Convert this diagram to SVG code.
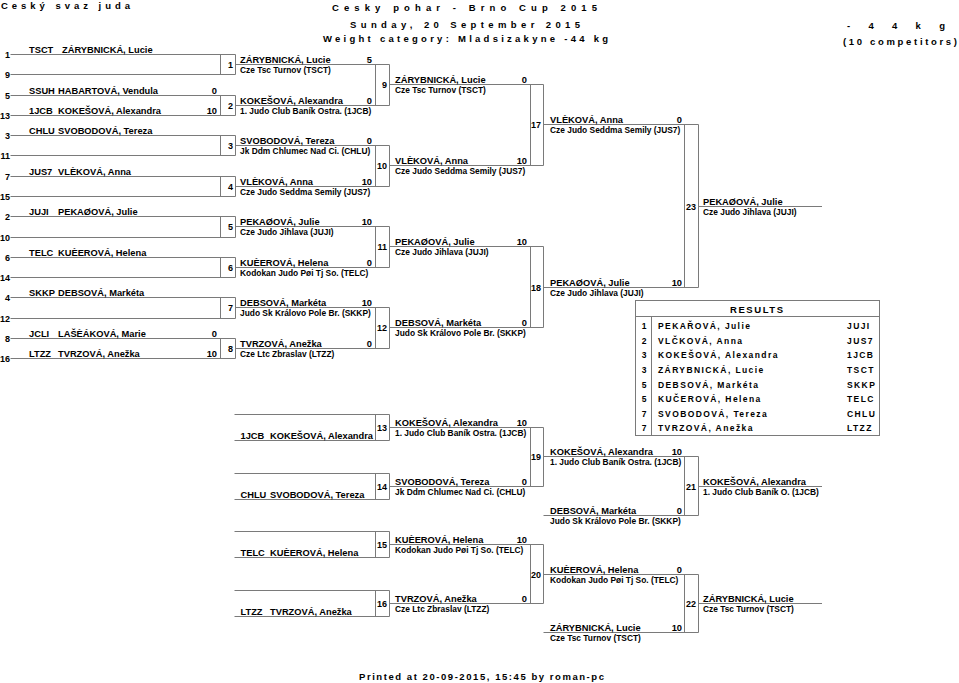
<svg xmlns="http://www.w3.org/2000/svg" width="959" height="683" viewBox="0 0 959 683">
<style>
text{font-family:"Liberation Sans",Arial,sans-serif;font-weight:bold;fill:#000}
.h{font-size:9.5px}
.n{font-size:9.3px}
.c{font-size:8.4px}
.s{font-size:9.3px;text-anchor:end}
.k{font-size:9px;text-anchor:end}
.r{font-size:8.5px;letter-spacing:1.4px}
.rc{font-size:8.5px;text-anchor:middle}
.ln{fill:none;stroke:#7a7a7a;stroke-width:1}
</style>
<rect width="959" height="683" fill="#fff"/>
<g id="header">
<text class="h" x="1" y="9" textLength="129" lengthAdjust="spacing">Ceský svaz juda</text>
<text class="h" x="332" y="10.5" textLength="265" lengthAdjust="spacing">Cesky pohar - Brno Cup 2015</text>
<text class="h" x="350" y="28" textLength="230" lengthAdjust="spacing">Sunday, 20 September 2015</text>
<text class="h" x="323" y="41.5" textLength="285" lengthAdjust="spacing">Weight category: Mladsizakyne -44 kg</text>
<text class="h" x="847" y="28.5" textLength="98" lengthAdjust="spacing">- 4 4   k g</text>
<text class="h" x="843" y="45" textLength="114" lengthAdjust="spacing">(10 competitors)</text>
</g>
<g id="connectors" class="ln">
<path d="M10.5 54.5H235.5M10.5 74.5H235.5M10.5 95.5H235.5M10.5 115.5H235.5M10.5 135.5H235.5M10.5 155.5H235.5M10.5 176.5H235.5M10.5 196.5H235.5M10.5 216.5H235.5M10.5 237.5H235.5M10.5 257.5H235.5M10.5 277.5H235.5M10.5 297.5H235.5M10.5 318.5H235.5M10.5 338.5H235.5M10.5 358.5H235.5"/>
<path d="M220.5 54.5V74.5M235.5 54.5V74.5M220.5 95.5V115.5M235.5 95.5V115.5M220.5 135.5V155.5M235.5 135.5V155.5M220.5 176.5V196.5M235.5 176.5V196.5M220.5 216.5V237.5M235.5 216.5V237.5M220.5 257.5V277.5M235.5 257.5V277.5M220.5 297.5V318.5M235.5 297.5V318.5M220.5 338.5V358.5M235.5 338.5V358.5"/>
<path d="M235.5 64.5H389.5M235.5 105.5H389.5M235.5 145.5H389.5M235.5 186.5H389.5M235.5 226.5H389.5M235.5 267.5H389.5M235.5 307.5H389.5M235.5 348.5H389.5"/>
<path d="M375.5 64.5V105.5M389.5 64.5V105.5M375.5 145.5V186.5M389.5 145.5V186.5M375.5 226.5V267.5M389.5 226.5V267.5M375.5 307.5V348.5M389.5 307.5V348.5"/>
<path d="M389.5 84.5H543.5M389.5 165.5H543.5M389.5 246.5H543.5M389.5 327.5H543.5"/>
<path d="M530.5 84.5V165.5M543.5 84.5V165.5M530.5 246.5V327.5M543.5 246.5V327.5"/>
<path d="M543.5 124.5H698.5M543.5 287.5H698.5M684.5 124.5V287.5M698.5 124.5V287.5M698.5 206.5H822"/>
<path d="M234.5 414.5H389.5M234.5 440.5H389.5M375.5 414.5V440.5M389.5 414.5V440.5M234.5 473.5H389.5M234.5 499.5H389.5M375.5 473.5V499.5M389.5 473.5V499.5M234.5 531.5H389.5M234.5 557.5H389.5M375.5 531.5V557.5M389.5 531.5V557.5M234.5 590.5H389.5M234.5 616.5H389.5M375.5 590.5V616.5M389.5 590.5V616.5"/>
<path d="M389.5 427.5H543.5M389.5 486.5H543.5M389.5 544.5H543.5M389.5 603.5H543.5M530.5 427.5V486.5M543.5 427.5V486.5M530.5 544.5V603.5M543.5 544.5V603.5"/>
<path d="M543.5 456.5H698.5M543.5 515.5H698.5M684.5 456.5V515.5M698.5 456.5V515.5M698.5 486.5H822M543.5 574.5H698.5M543.5 632.5H698.5M684.5 574.5V632.5M698.5 574.5V632.5M698.5 603.5H822"/>
</g>
<g id="seeds">
<g id="seed-1"><text class="k" x="10" y="58">1</text><text class="n" x="29" y="52.5">TSCT</text><text class="n" x="62" y="52.5">ZÁRYBNICKÁ, Lucie</text></g>
<g id="seed-9"><text class="k" x="10" y="78">9</text></g>
<g id="seed-5"><text class="k" x="10" y="99">5</text><text class="n" x="29" y="93.5">SSUH</text><text class="n" x="58" y="93.5">HABARTOVÁ, Vendula</text><text class="s" x="217" y="93.5">0</text></g>
<g id="seed-13"><text class="k" x="10" y="119">13</text><text class="n" x="29" y="113.5">1JCB</text><text class="n" x="58" y="113.5">KOKEŠOVÁ, Alexandra</text><text class="s" x="217" y="113.5">10</text></g>
<g id="seed-3"><text class="k" x="10" y="139">3</text><text class="n" x="29" y="133.5">CHLU</text><text class="n" x="58" y="133.5">SVOBODOVÁ, Tereza</text></g>
<g id="seed-11"><text class="k" x="10" y="159">11</text></g>
<g id="seed-7"><text class="k" x="10" y="180">7</text><text class="n" x="29" y="174.5">JUS7</text><text class="n" x="58" y="174.5">VLÈKOVÁ, Anna</text></g>
<g id="seed-15"><text class="k" x="10" y="200">15</text></g>
<g id="seed-2"><text class="k" x="10" y="220">2</text><text class="n" x="29" y="214.5">JUJI</text><text class="n" x="58" y="214.5">PEKAØOVÁ, Julie</text></g>
<g id="seed-10"><text class="k" x="10" y="241">10</text></g>
<g id="seed-6"><text class="k" x="10" y="261">6</text><text class="n" x="29" y="255.5">TELC</text><text class="n" x="58" y="255.5">KUÈEROVÁ, Helena</text></g>
<g id="seed-14"><text class="k" x="10" y="281">14</text></g>
<g id="seed-4"><text class="k" x="10" y="301">4</text><text class="n" x="29" y="295.5">SKKP</text><text class="n" x="58" y="295.5">DEBSOVÁ, Markéta</text></g>
<g id="seed-12"><text class="k" x="10" y="322">12</text></g>
<g id="seed-8"><text class="k" x="10" y="342">8</text><text class="n" x="29" y="336.5">JCLI</text><text class="n" x="58" y="336.5">LAŠÈÁKOVÁ, Marie</text><text class="s" x="217" y="336.5">0</text></g>
<g id="seed-16"><text class="k" x="10" y="362">16</text><text class="n" x="29" y="356.5">LTZZ</text><text class="n" x="58" y="356.5">TVRZOVÁ, Anežka</text><text class="s" x="217" y="356.5">10</text></g>
</g>
<g id="round1">
<g id="m1"><text class="k" x="233" y="68">1</text><text class="n" x="240" y="62.5">ZÁRYBNICKÁ, Lucie</text><text class="s" x="372" y="62.5">5</text><text class="c" x="240" y="73">Cze Tsc Turnov (TSCT)</text></g>
<g id="m2"><text class="k" x="233" y="109">2</text><text class="n" x="240" y="103.5">KOKEŠOVÁ, Alexandra</text><text class="s" x="372" y="103.5">0</text><text class="c" x="240" y="114">1. Judo Club Baník Ostra. (1JCB)</text></g>
<g id="m3"><text class="k" x="233" y="149">3</text><text class="n" x="240" y="143.5">SVOBODOVÁ, Tereza</text><text class="s" x="372" y="143.5">0</text><text class="c" x="240" y="154">Jk Ddm Chlumec Nad Ci. (CHLU)</text></g>
<g id="m4"><text class="k" x="233" y="190">4</text><text class="n" x="240" y="184.5">VLÈKOVÁ, Anna</text><text class="s" x="372" y="184.5">10</text><text class="c" x="240" y="195">Cze Judo Seddma Semily (JUS7)</text></g>
<g id="m5"><text class="k" x="233" y="230">5</text><text class="n" x="240" y="224.5">PEKAØOVÁ, Julie</text><text class="s" x="372" y="224.5">10</text><text class="c" x="240" y="235">Cze Judo Jihlava (JUJI)</text></g>
<g id="m6"><text class="k" x="233" y="271">6</text><text class="n" x="240" y="265.5">KUÈEROVÁ, Helena</text><text class="s" x="372" y="265.5">0</text><text class="c" x="240" y="276">Kodokan Judo Pøi Tj So. (TELC)</text></g>
<g id="m7"><text class="k" x="233" y="311">7</text><text class="n" x="240" y="305.5">DEBSOVÁ, Markéta</text><text class="s" x="372" y="305.5">10</text><text class="c" x="240" y="316">Judo Sk Královo Pole Br. (SKKP)</text></g>
<g id="m8"><text class="k" x="233" y="352">8</text><text class="n" x="240" y="346.5">TVRZOVÁ, Anežka</text><text class="s" x="372" y="346.5">0</text><text class="c" x="240" y="357">Cze Ltc Zbraslav (LTZZ)</text></g>
</g>
<g id="round2">
<g id="m9"><text class="k" x="387" y="88">9</text><text class="n" x="395" y="82.5">ZÁRYBNICKÁ, Lucie</text><text class="s" x="527" y="82.5">0</text><text class="c" x="395" y="93">Cze Tsc Turnov (TSCT)</text></g>
<g id="m10"><text class="k" x="387" y="169">10</text><text class="n" x="395" y="163.5">VLÈKOVÁ, Anna</text><text class="s" x="527" y="163.5">10</text><text class="c" x="395" y="174">Cze Judo Seddma Semily (JUS7)</text></g>
<g id="m11"><text class="k" x="387" y="250">11</text><text class="n" x="395" y="244.5">PEKAØOVÁ, Julie</text><text class="s" x="527" y="244.5">10</text><text class="c" x="395" y="255">Cze Judo Jihlava (JUJI)</text></g>
<g id="m12"><text class="k" x="387" y="331">12</text><text class="n" x="395" y="325.5">DEBSOVÁ, Markéta</text><text class="s" x="527" y="325.5">0</text><text class="c" x="395" y="336">Judo Sk Královo Pole Br. (SKKP)</text></g>
</g>
<g id="round3">
<g id="m17"><text class="k" x="541" y="128">17</text><text class="n" x="550" y="122.5">VLÈKOVÁ, Anna</text><text class="s" x="682" y="122.5">0</text><text class="c" x="550" y="133">Cze Judo Seddma Semily (JUS7)</text></g>
<g id="m18"><text class="k" x="541" y="291">18</text><text class="n" x="550" y="285.5">PEKAØOVÁ, Julie</text><text class="s" x="682" y="285.5">10</text><text class="c" x="550" y="296">Cze Judo Jihlava (JUJI)</text></g>
</g>
<g id="final">
<g id="m23"><text class="k" x="696" y="210">23</text><text class="n" x="703" y="204.5">PEKAØOVÁ, Julie</text><text class="c" x="703" y="215">Cze Judo Jihlava (JUJI)</text></g>
</g>
<g id="repechage">
<g id="r13"><text class="n" x="240.5" y="438.5">1JCB</text><text class="n" x="270" y="438.5">KOKEŠOVÁ, Alexandra</text></g>
<g id="r14"><text class="n" x="240.5" y="497.5">CHLU</text><text class="n" x="270" y="497.5">SVOBODOVÁ, Tereza</text></g>
<g id="r15"><text class="n" x="240.5" y="555.5">TELC</text><text class="n" x="270" y="555.5">KUÈEROVÁ, Helena</text></g>
<g id="r16"><text class="n" x="240.5" y="614.5">LTZZ</text><text class="n" x="270" y="614.5">TVRZOVÁ, Anežka</text></g>
<g id="m13"><text class="k" x="387" y="431">13</text><text class="n" x="395" y="425.5">KOKEŠOVÁ, Alexandra</text><text class="s" x="527" y="425.5">10</text><text class="c" x="395" y="436">1. Judo Club Baník Ostra. (1JCB)</text></g>
<g id="m14"><text class="k" x="387" y="490">14</text><text class="n" x="395" y="484.5">SVOBODOVÁ, Tereza</text><text class="s" x="527" y="484.5">0</text><text class="c" x="395" y="495">Jk Ddm Chlumec Nad Ci. (CHLU)</text></g>
<g id="m15"><text class="k" x="387" y="548">15</text><text class="n" x="395" y="542.5">KUÈEROVÁ, Helena</text><text class="s" x="527" y="542.5">10</text><text class="c" x="395" y="553">Kodokan Judo Pøi Tj So. (TELC)</text></g>
<g id="m16"><text class="k" x="387" y="607">16</text><text class="n" x="395" y="601.5">TVRZOVÁ, Anežka</text><text class="s" x="527" y="601.5">0</text><text class="c" x="395" y="612">Cze Ltc Zbraslav (LTZZ)</text></g>
<g id="m19"><text class="k" x="541" y="460">19</text><text class="n" x="550" y="454.5">KOKEŠOVÁ, Alexandra</text><text class="s" x="682" y="454.5">10</text><text class="c" x="550" y="465">1. Judo Club Baník Ostra. (1JCB)</text></g>
<g id="e-debsova"><text class="n" x="550" y="513.5">DEBSOVÁ, Markéta</text><text class="s" x="682" y="513.5">0</text><text class="c" x="550" y="524">Judo Sk Královo Pole Br. (SKKP)</text></g>
<g id="m20"><text class="k" x="541" y="578">20</text><text class="n" x="550" y="572.5">KUÈEROVÁ, Helena</text><text class="s" x="682" y="572.5">0</text><text class="c" x="550" y="583">Kodokan Judo Pøi Tj So. (TELC)</text></g>
<g id="e-zarybnicka"><text class="n" x="550" y="630.5">ZÁRYBNICKÁ, Lucie</text><text class="s" x="682" y="630.5">10</text><text class="c" x="550" y="641">Cze Tsc Turnov (TSCT)</text></g>
<g id="m21"><text class="k" x="696" y="490">21</text><text class="n" x="703" y="484.5">KOKEŠOVÁ, Alexandra</text><text class="c" x="703" y="495">1. Judo Club Baník O. (1JCB)</text></g>
<g id="m22"><text class="k" x="696" y="607">22</text><text class="n" x="703" y="601.5">ZÁRYBNICKÁ, Lucie</text><text class="c" x="703" y="612">Cze Tsc Turnov (TSCT)</text></g>
</g>
<g id="results">
<rect x="635.5" y="300.5" width="244" height="135" fill="none" stroke="#7a7a7a"/>
<path d="M635.5 316.5H879.5M651.5 316.5V435.5" fill="none" stroke="#7a7a7a"/>
<text class="h" x="730" y="312.5" textLength="53" lengthAdjust="spacing">RESULTS</text>
<text class="rc" x="644" y="329">1</text><text class="r" x="658" y="329">PEKAŘOVÁ, Julie</text><text class="r" x="847" y="329">JUJI</text>
<text class="rc" x="644" y="343.5">2</text><text class="r" x="658" y="343.5">VLČKOVÁ, Anna</text><text class="r" x="847" y="343.5">JUS7</text>
<text class="rc" x="644" y="358">3</text><text class="r" x="658" y="358">KOKEŠOVÁ, Alexandra</text><text class="r" x="847" y="358">1JCB</text>
<text class="rc" x="644" y="372.5">3</text><text class="r" x="658" y="372.5">ZÁRYBNICKÁ, Lucie</text><text class="r" x="847" y="372.5">TSCT</text>
<text class="rc" x="644" y="387.5">5</text><text class="r" x="658" y="387.5">DEBSOVÁ, Markéta</text><text class="r" x="847" y="387.5">SKKP</text>
<text class="rc" x="644" y="402">5</text><text class="r" x="658" y="402">KUČEROVÁ, Helena</text><text class="r" x="847" y="402">TELC</text>
<text class="rc" x="644" y="416.5">7</text><text class="r" x="658" y="416.5">SVOBODOVÁ, Tereza</text><text class="r" x="847" y="416.5">CHLU</text>
<text class="rc" x="644" y="431">7</text><text class="r" x="658" y="431">TVRZOVÁ, Anežka</text><text class="r" x="847" y="431">LTZZ</text>
</g>
<g id="footer">
<text class="h" x="359" y="679.5" textLength="245" lengthAdjust="spacing">Printed at 20-09-2015, 15:45 by roman-pc</text>
</g>
</svg>
